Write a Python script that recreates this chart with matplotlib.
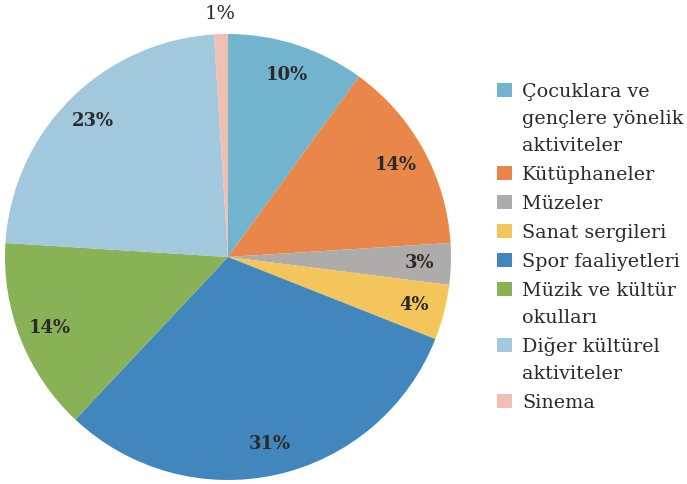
import matplotlib.pyplot as plt
from matplotlib.patches import Rectangle

labels = ['Çocuklara ve\ngençlere yönelik\naktiviteler', 'Kütüphaneler', 'Müzeler',
          'Sanat sergileri', 'Spor faaliyetleri', 'Müzik ve kültür\nokulları',
          'Diğer kültürel\naktiviteler', 'Sinema']
values = [10, 14, 3, 4, 31, 14, 23, 1]
colors = ['#72B4CE', '#E9874A', '#ADACAA', '#F4C55A', '#4286BE', '#89B155', '#A1C8DC', '#EFBFB4']

W, H = 687, 484
fig = plt.figure(figsize=(W / 100, H / 100), dpi=100)
# pie centre ~ (228, 257) px, radius ~223 px
cx, cy, r = 228, 257, 223
ax = fig.add_axes([(cx - r) / W, (H - cy - r) / H, 2 * r / W, 2 * r / H])

wedges, texts = ax.pie(values, colors=colors, startangle=90, counterclock=False,
                       radius=1, labels=[f'{v}%' for v in values], labeldistance=0.86,
                       wedgeprops=dict(linewidth=0))
for t, v in zip(texts, values):
    t.set_ha('center')
    t.set_va('center')
    t.set_fontfamily('DejaVu Serif')
    t.set_fontsize(13)
    t.set_color('#2a2a2a')
    if v == 1:
        t.set_position((t.get_position()[0] * 1.27, t.get_position()[1] * 1.27))
        t.set_fontsize(14)
    else:
        t.set_fontweight('bold')
ax.set_xlim(-1, 1)
ax.set_ylim(-1, 1)
ax.set_aspect('equal')
ax.axis('off')

# legend
y = 96.7
for lab, col in zip(labels, colors):
    lines = lab.split('\n')
    fig.patches.append(Rectangle((497 / W, 1 - (y) / H), 15 / W, 14 / H,
                                 transform=fig.transFigure, facecolor=col, edgecolor='none'))
    for i, line in enumerate(lines):
        fig.text(522 / W, 1 - (y + 27 * i) / H, line, fontsize=13.8, family='DejaVu Serif',
                 color='#2a2a2a', va='baseline', ha='left')
    y += 27 * len(lines) + 2

fig.savefig('out.png', dpi=100)
